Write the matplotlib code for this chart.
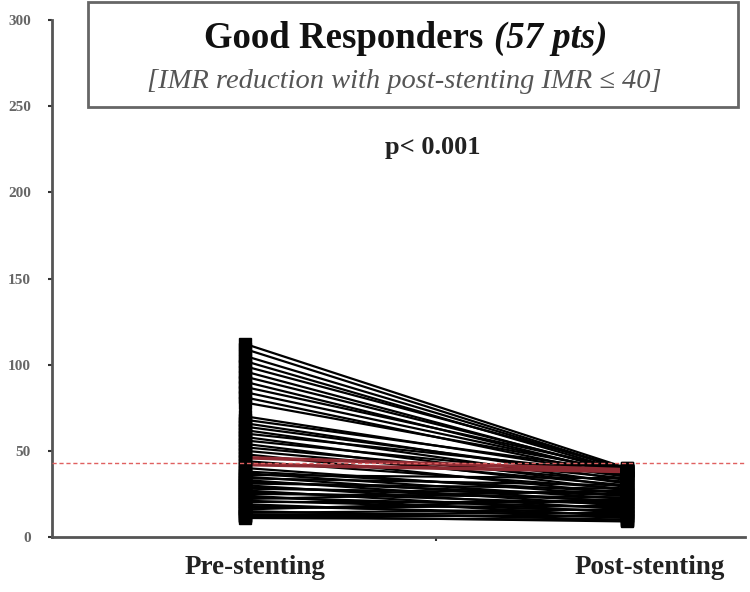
import numpy as np
import matplotlib.pyplot as plt
from matplotlib.patches import Rectangle

plt.rcParams['font.family'] = ['Liberation Serif', 'DejaVu Serif']

# IMR per patient, before and after stenting (57 good responders)
pre_imr = [112, 109, 105, 102, 99, 96, 93, 90, 87, 84, 81, 78,
           70, 68, 66, 64, 62, 60, 58, 56, 54, 52, 50, 48, 46, 44, 42, 40,
           38, 37, 36, 35, 34, 33, 32, 31, 30, 29, 28, 27, 26, 25, 24, 23,
           22, 21, 20, 19, 18, 17, 16, 15, 14, 13, 12, 12, 11]
post_imr = [40, 39, 39, 38, 40, 37, 38, 36, 39, 37, 35, 38,
            36, 38, 33, 35, 31, 37, 29, 34, 27, 32, 30, 25, 39, 28, 38, 24,
            26, 22, 34, 20, 30, 18, 24, 28, 16, 21, 25, 14, 19, 23, 12, 17,
            27, 15, 20, 11, 13, 18, 22, 10, 16, 14, 12, 9, 10]
highlight = [24, 26]   # the two lines drawn in dark red
cutoff = 43
groups = ['Pre-stenting', 'Post-stenting']
yticks = [0, 50, 100, 150, 200, 250, 300]

fig = plt.figure(figsize=(7.5, 5.92), dpi=100)
ax = fig.add_axes([0.069, 0.093, 0.924, 0.873])

for i, (a, b) in enumerate(zip(pre_imr, post_imr)):
    if i in highlight:
        ax.plot([0, 1], [a, b], color='#8e2a32', lw=2.6, zorder=3)
    else:
        ax.plot([0, 1], [a, b], color='black', lw=1.6, zorder=2)
ax.plot(np.zeros(len(pre_imr)), pre_imr, 's', color='black', ms=8.5, zorder=4)
ax.plot(np.ones(len(post_imr)), post_imr, 's', color='black', ms=8.5, zorder=4)

ax.axhline(cutoff, color='#e06060', lw=1, ls=(0, (3, 2)), zorder=5)

ax.set_xlim(-0.508, 1.31)
ax.set_ylim(0, 300)
ax.set_yticks(yticks)
ax.set_yticklabels([str(t) for t in yticks], fontsize=11, color='#666666',
                   fontweight='bold')
ax.tick_params(axis='y', length=3, width=1.5, color='#333333', pad=12)

ax.set_xticks([0.026, 1.06])
ax.set_xticklabels(groups, fontsize=19.5, fontweight='bold', color='#222222')
ax.set_xticks([0.5], minor=True)
ax.tick_params(axis='x', which='major', length=0, pad=13)
ax.tick_params(axis='x', which='minor', length=3, width=1.5, color='#333333')

for s in ['top', 'right']:
    ax.spines[s].set_visible(False)
for s in ['left', 'bottom']:
    ax.spines[s].set_color('#555555')
    ax.spines[s].set_linewidth(2)

# title box
fig.patches.append(Rectangle((0.117, 0.819), 0.867, 0.177, transform=fig.transFigure,
                             facecolor='white', edgecolor='#666666', lw=2))
fig.text(0.644, 0.919, 'Good Responders', ha='right', va='baseline',
         fontsize=26.5, fontweight='bold', color='#111111')
fig.text(0.658, 0.919, '(57 pts)', ha='left', va='baseline',
         fontsize=26.5, fontweight='bold', fontstyle='italic', color='#111111')
fig.text(0.539, 0.851, '[IMR reduction with post-stenting IMR \u2264 40]',
         ha='center', va='baseline', fontsize=20.5, fontstyle='italic', color='#555555')
fig.text(0.577, 0.740, 'p< 0.001', ha='center', va='baseline',
         fontsize=19, fontweight='bold', color='#222222')

plt.savefig('out.png', dpi=100)
